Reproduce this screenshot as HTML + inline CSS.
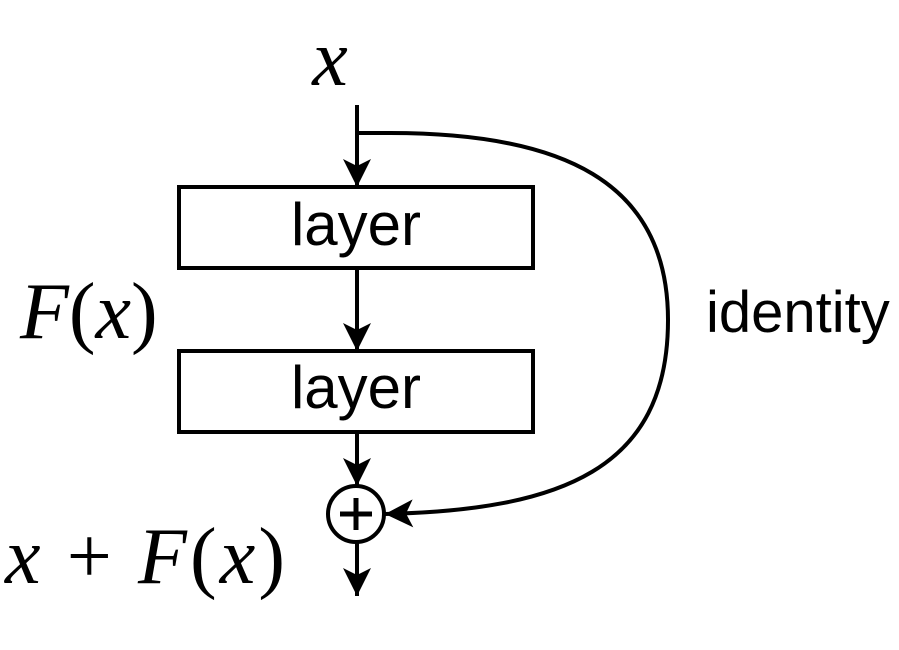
<!DOCTYPE html>
<html><head><meta charset="utf-8"><style>
html,body{margin:0;padding:0;background:#fff;}
svg{display:block;}
.s{font-family:"Liberation Sans",sans-serif;}
.m{font-family:"Liberation Serif",serif;}
</style></head><body>
<svg width="899" height="650" viewBox="0 0 899 650" xmlns="http://www.w3.org/2000/svg">
<defs>
<marker id="a" markerUnits="userSpaceOnUse" markerWidth="30" markerHeight="30" refX="28" refY="14" orient="auto">
<path d="M0,0 L28,14 L0,28 L7,14 Z" fill="#000"/>
</marker>
</defs>
<g stroke="#000" stroke-width="4" fill="none">
<line x1="357" y1="105" x2="357" y2="187" marker-end="url(#a)"/>
<rect x="179" y="187" width="354" height="81"/>
<line x1="357" y1="268" x2="357" y2="351" marker-end="url(#a)"/>
<rect x="179" y="351" width="354" height="81"/>
<line x1="357" y1="432" x2="357" y2="486" marker-end="url(#a)"/>
<circle cx="356" cy="514" r="28"/>
<line x1="340" y1="514" x2="372" y2="514" stroke-width="5"/>
<line x1="356" y1="498" x2="356" y2="530" stroke-width="5"/>
<line x1="357" y1="542" x2="357" y2="596" marker-end="url(#a)"/>
<path d="M357,133 L390,133 C560,133 668,180 668,320 C668,470 560,510 385,514" marker-end="url(#a)"/>
</g>
<text x="330" y="85" class="m" font-size="80" font-style="italic" text-anchor="middle">x</text>
<text x="356" y="245" class="s" font-size="60" text-anchor="middle">layer</text>
<text x="356" y="408" class="s" font-size="60" text-anchor="middle">layer</text>
<text x="20" y="338" class="m" font-size="80"><tspan font-style="italic">F</tspan>(<tspan font-style="italic">x</tspan>)</text>
<text x="706" y="332" class="s" font-size="58">identity</text>
<text x="5" y="583" class="m" font-size="80" textLength="280" lengthAdjust="spacing"><tspan font-style="italic">x</tspan> + <tspan font-style="italic">F</tspan>(<tspan font-style="italic">x</tspan>)</text>
</svg>
</body></html>
